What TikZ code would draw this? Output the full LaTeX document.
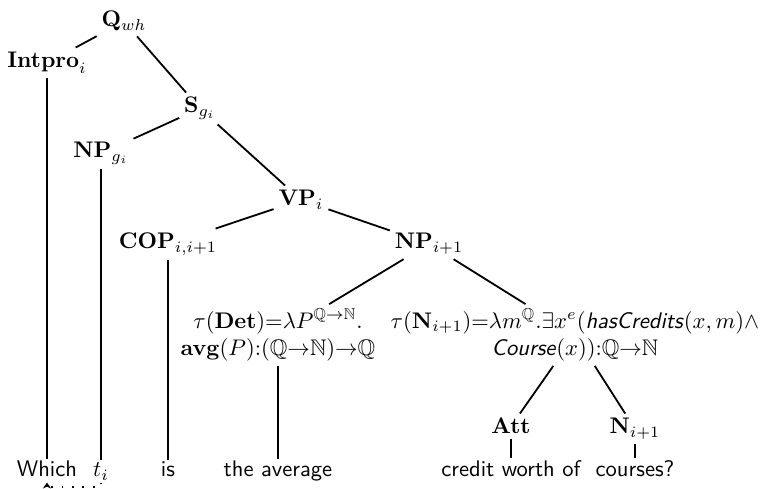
\documentclass[tikz,border=0pt]{standalone}
\usepackage{amssymb}
\usetikzlibrary{positioning,arrows.meta}

\begin{document}
\begin{tikzpicture}[
  x=0.443pt, y=-0.443pt,
  cat/.style={anchor=base, inner sep=2pt},
  palabra/.style={anchor=base, inner sep=1pt, font=\sffamily, text depth=.3ex},
  tipo/.style={align=center, inner sep=2pt},
  rama/.style={thick},
  traza/.style={thick, dash pattern=on 0.8pt off 3.8pt, -{Stealth[length=2.6pt,width=3.6pt]}}
]
\useasboundingbox (0,0) rectangle (763,489);

% Nivel 1-3: pregunta y sujeto
\node[cat] (qwh) at (124,27) {$\mathbf{Q}_{wh}$};
\node[cat] (intpro) at (47,68) {$\mathbf{Intpro}_i$};
\node[cat] (s) at (200,113) {$\mathbf{S}_{g_i}$};
\node[cat] (npg) at (101,158) {$\mathbf{NP}_{g_i}$};

% Nivel 4-5: sintagma verbal
\node[cat] (vp) at (301,206) {$\mathbf{VP}_i$};
\node[cat] (cop) at (168,249) {$\mathbf{COP}_{i,i+1}$};
\node[cat] (npi) at (429,249) {$\mathbf{NP}_{i+1}$};

% Nivel 6: tipos
\node[tipo] (det) at (278,335) {$\tau(\mathbf{Det}){=}\lambda P^{\mathbb{Q}\rightarrow\mathbb{N}}.$\\
  $\mathbf{avg}(P){:}(\mathbb{Q}{\rightarrow}\mathbb{N}){\rightarrow}\mathbb{Q}$};
\node[tipo] (tn) at (575,335) {$\tau(\mathbf{N}_{i+1}){=}\lambda m^{\mathbb{Q}}.\exists x^e(\textsf{\textit{hasCredits}}(x,m){\wedge}$\\
  $\textsf{\textit{Course}}(x)){:}\mathbb{Q}{\rightarrow}\mathbb{N}$};
\node[cat] (att) at (511,434) {$\mathbf{Att}$};
\node[cat] (ni) at (635,434) {$\mathbf{N}_{i+1}$};

% Palabras
\node[palabra] (which) at (47,477) {Which};
\node[palabra] (ti) at (101,477) {$t_i$};
\node[palabra] (is) at (168,477) {is};
\node[palabra] (avg) at (278,477) {the average};
\node[palabra] (credit) at (511,477) {credit worth of};
\node[palabra] (courses) at (635,477) {courses?};

\draw[rama] (qwh) -- (intpro);
\draw[rama] (qwh) -- (s);
\draw[rama] (s) -- (npg);
\draw[rama] (s) -- (vp);
\draw[rama] (vp) -- (cop);
\draw[rama] (vp) -- (npi);
\draw[rama] (npi) -- (det);
\draw[rama] (npi) -- (tn);
\draw[rama] (tn) -- (att);
\draw[rama] (tn) -- (ni);

\draw[rama] (intpro) -- (which);
\draw[rama] (npg) -- (ti);
\draw[rama] (cop) -- (is);
\draw[rama] (det) -- (avg);
\draw[rama] (att) -- (credit);
\draw[rama] (ni) -- (courses);

\draw[traza] (ti.south) -- ++(0,4) -| (which.south);
\end{tikzpicture}
\end{document}
